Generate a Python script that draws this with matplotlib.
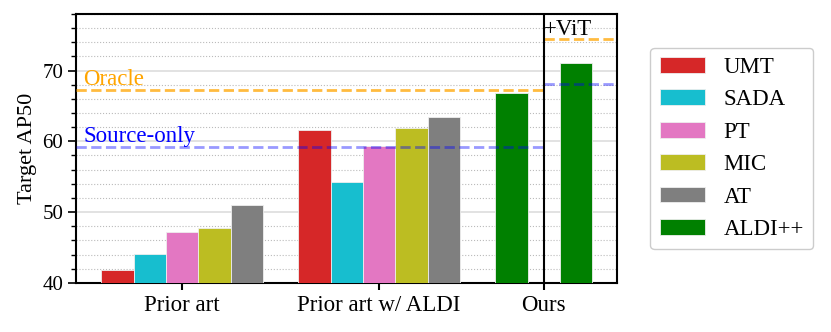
import numpy as np
import matplotlib
matplotlib.use('Agg')
from matplotlib import pyplot as plt
from matplotlib.ticker import MultipleLocator

plt.rcParams['font.family'] = ['Liberation Serif', 'DejaVu Serif']

# data
groups = ['Prior art', 'Prior art w/ ALDI', 'Ours']
methods = ['UMT', 'SADA', 'PT', 'MIC', 'AT']
prior_art = [41.8, 44.1, 47.2, 47.8, 51.0]
with_aldi = [61.6, 54.3, 59.3, 61.9, 63.4]
ours = [66.8, 71.0]          # ALDI++ (base), ALDI++ (+ViT)
oracle = [67.2, 74.5]        # base, +ViT
source_only = [59.2, 68.1]   # base, +ViT
colors = ['#d62728', '#17becf', '#e377c2', '#bcbd22', '#7f7f7f']
ours_color = 'green'

w = 0.164
offs = (np.arange(5) - 2) * w
split = 2 - w

fig, ax = plt.subplots(figsize=(8.31, 3.32), dpi=100)
fig.subplots_adjust(left=0.092, right=0.743, top=0.958, bottom=0.148)

for i, m in enumerate(methods):
    ax.bar(0 + offs[i], prior_art[i], w, bottom=0, color=colors[i],
           edgecolor='#eeeeee', linewidth=0.6, label=m, zorder=3)
    ax.bar(1 + offs[i], with_aldi[i], w, color=colors[i],
           edgecolor='#eeeeee', linewidth=0.6, zorder=3)
ax.bar([split - w, split + w], ours, w, color=ours_color,
       edgecolor='#eeeeee', linewidth=0.6, label='ALDI++', zorder=3)

xmin, xmax = -0.536, 2.21
ax.set_xlim(xmin, xmax)
ax.set_ylim(40, 78)

# reference lines
ax.plot([xmin, split], [oracle[0]] * 2, ls='--', color='orange', alpha=0.75, lw=2, zorder=4)
ax.plot([split, xmax], [oracle[1]] * 2, ls='--', color='orange', alpha=0.75, lw=2, zorder=4)
ax.plot([xmin, split], [source_only[0]] * 2, ls='--', color='blue', alpha=0.4, lw=2, zorder=4)
ax.plot([split, xmax], [source_only[1]] * 2, ls='--', color='blue', alpha=0.4, lw=2, zorder=4)
ax.axvline(split, color='black', lw=1.5, zorder=5)

ax.text(xmin + 0.034, oracle[0] + 0.75, 'Oracle', color='orange', fontsize=16.5, va='baseline')
ax.text(xmin + 0.034, source_only[0] + 0.65, 'Source-only', color='blue', fontsize=16.5, va='baseline')
ax.text(split, 75.0, '+ViT', color='black', fontsize=16.5, va='baseline', ha='left')

ax.set_xticks([0, 1, split])
ax.set_xticklabels(groups, fontsize=16.5)
ax.yaxis.set_major_locator(MultipleLocator(10))
ax.yaxis.set_minor_locator(MultipleLocator(2))
ax.tick_params(axis='y', labelsize=15, length=6, width=1.2)
ax.tick_params(axis='y', which='minor', length=3.5, width=1)
ax.tick_params(axis='x', length=5, width=1.5)
ax.set_ylabel('Target AP50', fontsize=16)
ax.grid(axis='y', which='major', color='#dddddd', lw=1.2, zorder=0)
ax.grid(axis='y', which='minor', color='#bbbbbb', ls=':', lw=0.8, zorder=0)
ax.set_axisbelow(True)
for s in ax.spines.values():
    s.set_linewidth(1.5)

leg = ax.legend(loc='center left', bbox_to_anchor=(1.061, 0.5), fontsize=16.5,
                borderaxespad=0, handlelength=2.0, handleheight=0.68, borderpad=0.4,
                labelspacing=0.5, handletextpad=0.8, fancybox=True,
                framealpha=1, edgecolor='#cccccc')

plt.savefig('out.png', dpi=100)
